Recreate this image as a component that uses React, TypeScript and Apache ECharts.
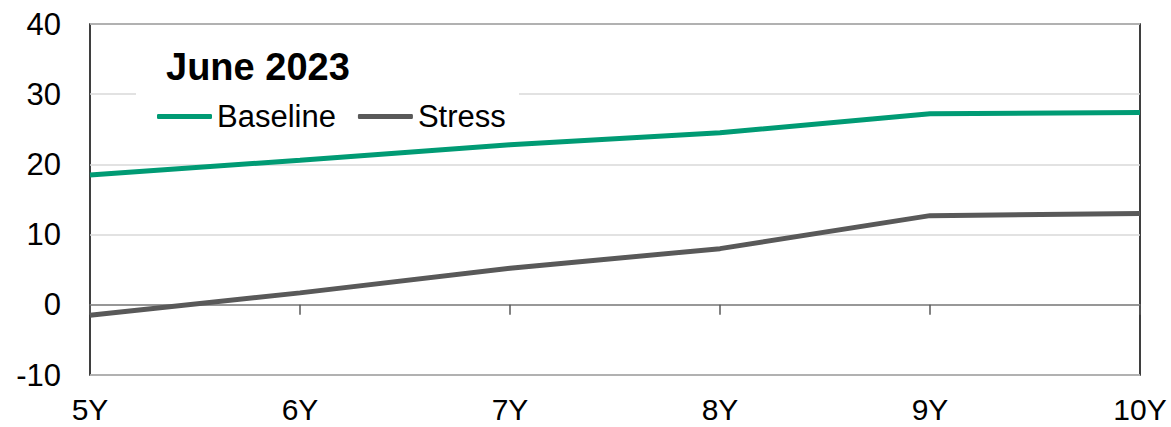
import React, { useEffect, useRef } from "react";
import * as echarts from "echarts";

const categories = ["5Y", "6Y", "7Y", "8Y", "9Y", "10Y"];
const baseline = [18.5, 20.6, 22.8, 24.5, 27.2, 27.4];
const stress = [-1.5, 1.7, 5.2, 8.0, 12.7, 13.0];
const yTicks = { min: -10, max: 40, interval: 10 };
const title = "June 2023";

const FONT = "'Liberation Sans', Arial, Helvetica, sans-serif";

export default function App() {
  const ref = useRef<HTMLDivElement>(null);
  useEffect(() => {
    if (!ref.current) return;
    const chart = echarts.init(ref.current, undefined, { renderer: "svg" });
    chart.setOption({
      animation: false,
      backgroundColor: "#ffffff",
      grid: {
        left: 90,
        right: 31,
        top: 24,
        bottom: 52,
        show: true,
        borderColor: "#000000",
        borderWidth: 1.5,
        backgroundColor: "transparent",
      },
      legend: {
        left: 152,
        top: 96,
        padding: 5,
        icon: "roundRect",
        itemWidth: 55,
        itemHeight: 5,
        itemGap: 22,
        z: 5,
        textStyle: { fontFamily: FONT, fontSize: 31, color: "#000000" },
        data: ["Baseline", "Stress"],
      },
      graphic: [
        {
          type: "rect",
          z: 3,
          shape: { x: 136, y: 36, width: 383, height: 106 },
          style: { fill: "#ffffff" },
        },
        {
          type: "text",
          z: 6,
          x: 166,
          y: 67,
          style: {
            text: title,
            fontFamily: FONT,
            fontSize: 38,
            fontWeight: "bold",
            fill: "#000000",
            textVerticalAlign: "middle",
          },
        },
      ],
      xAxis: [
        {
          type: "category",
          data: categories,
          boundaryGap: false,
          axisLine: { onZero: true, lineStyle: { color: "#7f7f7f", width: 1.5 } },
          axisTick: { show: true, length: 10, lineStyle: { color: "#595959", width: 1.5 } },
          axisLabel: { show: false },
          splitLine: { show: false },
        },
        {
          type: "category",
          data: categories,
          boundaryGap: false,
          position: "bottom",
          axisLine: { show: false, onZero: false },
          axisTick: { show: false },
          axisLabel: {
            show: true,
            margin: 21,
            lineHeight: 26,
            fontFamily: FONT,
            fontSize: 30,
            color: "#000000",
          },
          splitLine: { show: false },
        },
      ],
      yAxis: {
        type: "value",
        min: yTicks.min,
        max: yTicks.max,
        interval: yTicks.interval,
        axisLine: { show: false },
        axisTick: { show: false },
        axisLabel: {
          margin: 29,
          fontFamily: FONT,
          fontSize: 31,
          color: "#000000",
        },
        splitLine: { show: true, lineStyle: { color: "#d9d9d9", width: 1.5 } },
      },
      series: [
        {
          name: "Baseline",
          type: "line",
          data: baseline,
          symbol: "none",
          z: 3,
          itemStyle: { color: "#009B74" },
          lineStyle: { color: "#009B74", width: 5 },
        },
        {
          name: "Stress",
          type: "line",
          data: stress,
          symbol: "none",
          z: 3,
          itemStyle: { color: "#595959" },
          lineStyle: { color: "#595959", width: 5 },
        },
      ],
    });
    return () => chart.dispose();
  }, []);
  return (
    <div
      ref={ref}
      style={{ position: "fixed", left: 0, top: 0, width: 1171, height: 427 }}
    />
  );
}
